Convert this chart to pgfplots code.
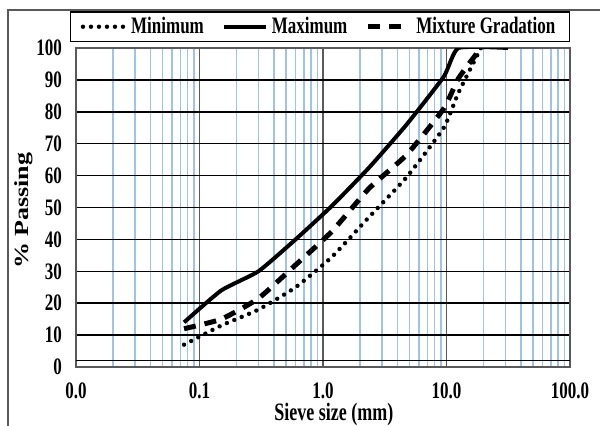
\documentclass[border=0pt]{standalone}
\usepackage{fontspec}
\setmainfont{Liberation Serif}[FakeStretch=0.72]
\newfontfamily\ylabfont{Liberation Serif}
\usepackage{pgfplots}
\pgfplotsset{compat=1.18}
\definecolor{minorblue}{HTML}{9DC3E6}
\definecolor{framegray}{HTML}{595959}
\begin{document}
\begin{tikzpicture}
\begin{axis}[
  at={(0pt,0pt)}, anchor=south west,
  scale only axis, width=247pt, height=159.5pt,
  xmode=log, log basis x=10,
  xmin=0.01, xmax=100, ymin=0, ymax=100,
  xtick={0.01,0.1,1,10,100},
  xticklabels={0.0,0.1,1.0,10.0,100.0},
  minor xtick={0.02,0.03,0.04,0.05,0.06,0.07,0.08,0.09,0.2,0.3,0.4,0.5,0.6,0.7,0.8,0.9,2,3,4,5,6,7,8,9,20,30,40,50,60,70,80,90},
  ytick={0,10,20,30,40,50,60,70,80,90,100},
  extra y ticks={2}, extra y tick labels={},
  extra y tick style={grid=major},
  xmajorgrids, xminorgrids, ymajorgrids,
  major x grid style={framegray, line width=0.7pt},
  minor x grid style={minorblue, line width=0.8pt},
  major y grid style={black, line width=0.75pt},
  major tick length=0pt, minor tick length=0pt,
  axis line style={framegray, line width=0.7pt},
  /pgf/number format/assume math mode=true,
  tick label style={font=\bfseries\fontsize{11.8}{13}\selectfont},
  yticklabel style={xshift=-3.5pt},
  xticklabel style={yshift=-4.5pt},
  xlabel={Sieve size (mm)},
  xlabel style={at={(axis description cs:0.522,0)}, anchor=north, yshift=-14.5pt, font=\bfseries\fontsize{12.5}{14}\selectfont},
  ylabel={\% Passing},
  ylabel style={at={(axis description cs:-0.105,0.49)}, anchor=center, font=\ylabfont\bfseries\fontsize{13}{15}\selectfont, yscale=0.77},
  legend columns=3,
  legend image code/.code={\draw[#1] (0pt,0pt) -- (21pt,0pt);},
  legend style={at={(axis description cs:0.494,1)}, anchor=south, yshift=3pt,
    draw=black, line width=0.6pt, inner xsep=5pt, inner ysep=0.5pt,
    font=\bfseries\fontsize{11.8}{13}\selectfont,
    /tikz/every even column/.append style={column sep=7pt}},
]
\addplot[black, line width=2.2pt, line cap=round, dash pattern=on 0pt off 4pt, smooth, tension=0.3] coordinates {
 (0.075,7) (0.15,13) (0.3,18) (0.6,25) (1.18,34.5) (2.36,47) (4.75,59.5) (9.5,75) (12.5,86) (19,100)};
\addlegendentry{Minimum}
\addplot[black, line width=2pt, smooth, tension=0.3] coordinates {
 (0.075,14) (0.15,24) (0.3,30) (0.6,40) (1.18,50.5) (2.36,62.5) (4.75,76) (9.5,91) (12.5,100) (31.5,100)};
\addlegendentry{Maximum}
\addplot[black, line width=2.5pt, dash pattern=on 6pt off 4.5pt, smooth, tension=0.3] coordinates {
 (0.075,12) (0.15,15) (0.3,21.5) (0.6,32) (1.18,42.5) (2.36,56) (4.75,66.5) (9.5,81) (12.5,90.5) (19,100)};
\addlegendentry{Mixture Gradation}
\end{axis}
\draw[framegray, line width=0.8pt] (-34pt,-40pt) -- (-34pt,178.5pt) -- (272pt,178.5pt);
\pgfresetboundingbox
\useasboundingbox (-38pt,-29pt) rectangle (262pt,183.5pt);
\end{tikzpicture}
\end{document}
